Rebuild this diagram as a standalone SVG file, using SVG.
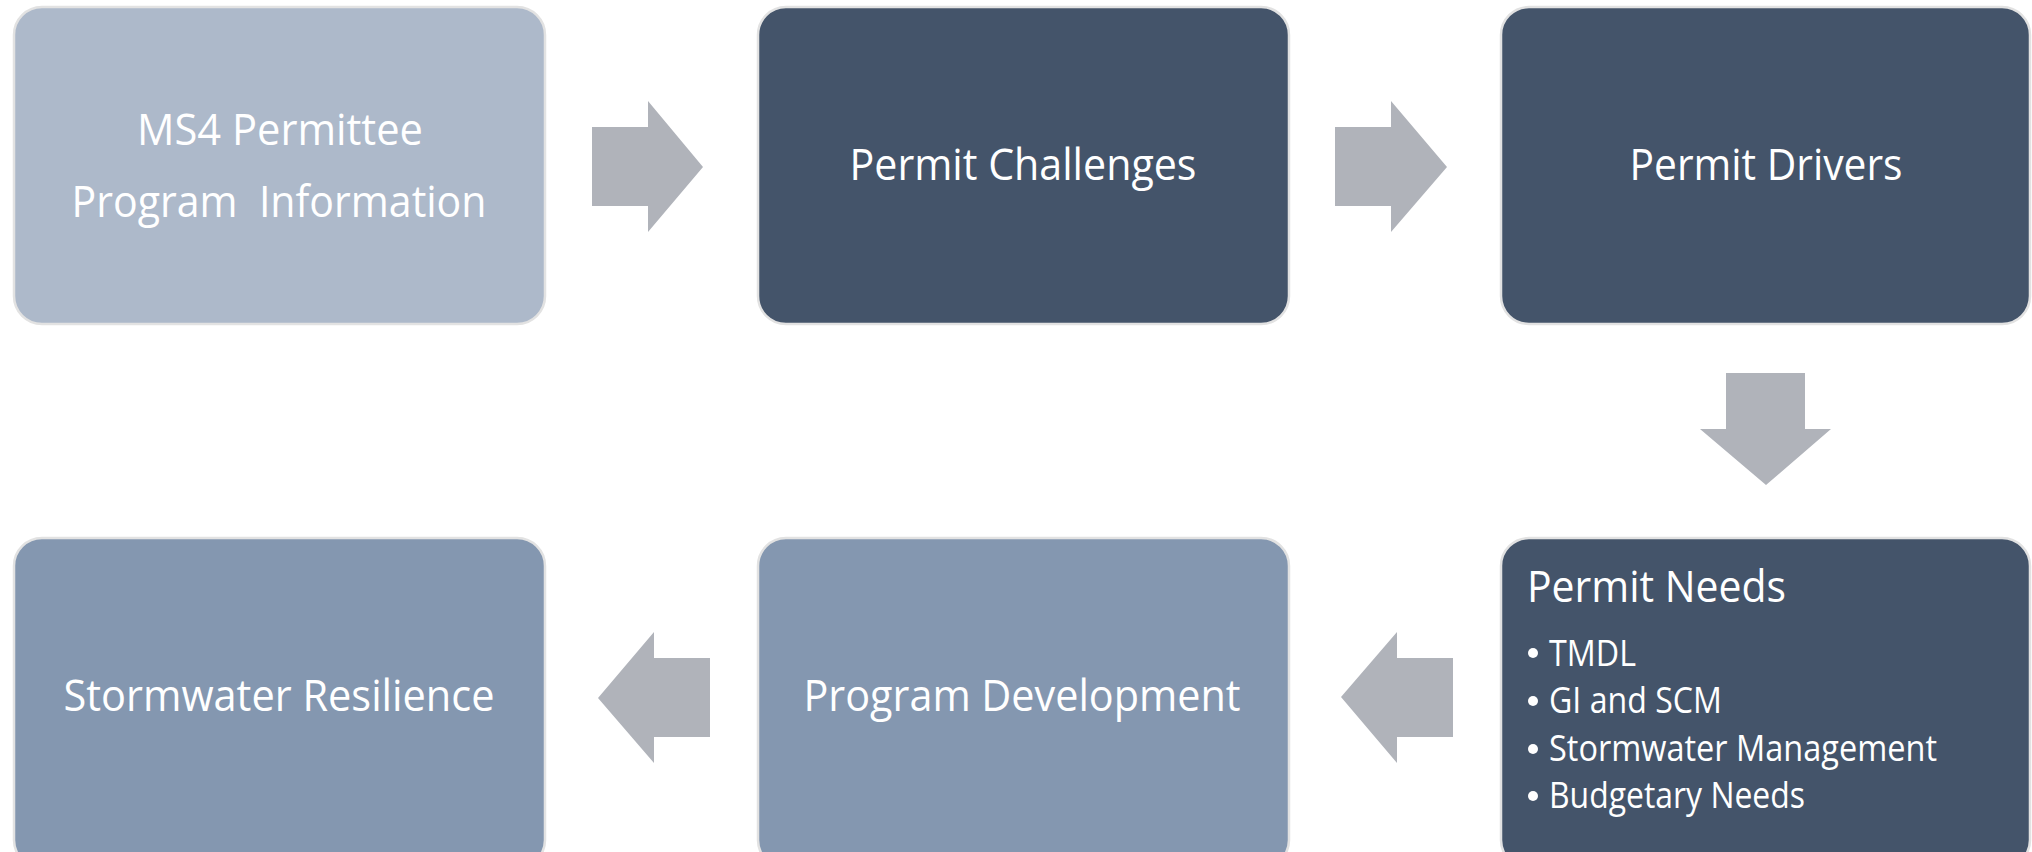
<svg xmlns="http://www.w3.org/2000/svg" width="2032" height="852" viewBox="0 0 2032 852">
<style>
.box{stroke:#e2e2e2;stroke-width:2.5}
.light{fill:#adb9ca}
.dark{fill:#44546a}
.mid{fill:#8497b0}
.t{font-family:"Open Sans","Liberation Sans",sans-serif;fill:#ffffff;font-size:44px;white-space:pre}
.b{font-family:"Open Sans","Liberation Sans",sans-serif;fill:#ffffff;font-size:37px}
.arrow{fill:#b0b3ba}
</style>
<rect width="2032" height="852" fill="#ffffff"/>
<g id="connectors">
<polygon class="arrow" points="592,127 648,127 648,101 703,167 648,232 648,206 592,206"/>
<polygon class="arrow" points="1335,127 1391,127 1391,101 1447,167 1391,232 1391,206 1335,206"/>
<polygon class="arrow" points="1726,373 1805,373 1805,429 1831,429 1766,485 1700,429 1726,429"/>
<polygon class="arrow" points="1453,658 1397,658 1397,632 1341,697 1397,763 1397,737 1453,737"/>
<polygon class="arrow" points="710,658 654,658 654,632 598,698 654,763 654,737 710,737"/>
</g>
<g id="node-ms4">
<rect class="box light" x="14" y="7" width="531" height="317" rx="28"/>
<text class="t" x="280" y="145" text-anchor="middle" textLength="286" lengthAdjust="spacingAndGlyphs">MS4 Permittee</text>
<text class="t" x="279" y="217" text-anchor="middle" textLength="415" lengthAdjust="spacingAndGlyphs">Program  Information</text>
</g>
<g id="node-challenges">
<rect class="box dark" x="758" y="7" width="531" height="317" rx="28"/>
<text class="t" x="1023" y="180" text-anchor="middle" textLength="347" lengthAdjust="spacingAndGlyphs">Permit Challenges</text>
</g>
<g id="node-drivers">
<rect class="box dark" x="1501" y="7" width="529" height="317" rx="28"/>
<text class="t" x="1766" y="180" text-anchor="middle" textLength="273" lengthAdjust="spacingAndGlyphs">Permit Drivers</text>
</g>
<g id="node-needs">
<rect class="box dark" x="1501" y="538" width="529" height="330" rx="28"/>
<text class="t" x="1527" y="602" textLength="259" lengthAdjust="spacingAndGlyphs">Permit Needs</text>
<circle cx="1533" cy="653" r="5" fill="#ffffff"/>
<text class="b" x="1549" y="666" textLength="87" lengthAdjust="spacingAndGlyphs">TMDL</text>
<circle cx="1533" cy="701" r="5" fill="#ffffff"/>
<text class="b" x="1549" y="713" textLength="173" lengthAdjust="spacingAndGlyphs">GI and SCM</text>
<circle cx="1533" cy="749" r="5" fill="#ffffff"/>
<text class="b" x="1549" y="761" textLength="388" lengthAdjust="spacingAndGlyphs">Stormwater Management</text>
<circle cx="1533" cy="796" r="5" fill="#ffffff"/>
<text class="b" x="1549" y="808" textLength="256" lengthAdjust="spacingAndGlyphs">Budgetary Needs</text>
</g>
<g id="node-development">
<rect class="box mid" x="758" y="538" width="531" height="330" rx="28"/>
<text class="t" x="1022" y="711" text-anchor="middle" textLength="437" lengthAdjust="spacingAndGlyphs">Program Development</text>
</g>
<g id="node-resilience">
<rect class="box mid" x="14" y="538" width="531" height="330" rx="28"/>
<text class="t" x="279" y="711" text-anchor="middle" textLength="431" lengthAdjust="spacingAndGlyphs">Stormwater Resilience</text>
</g>
</svg>
